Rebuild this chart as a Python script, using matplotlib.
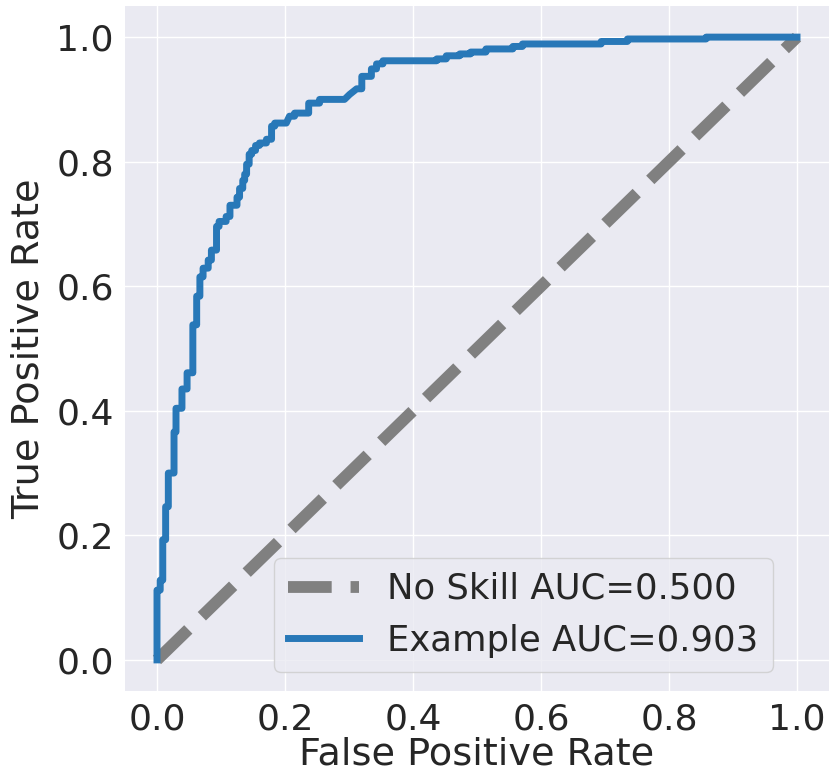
import matplotlib
matplotlib.use("Agg")
import matplotlib.pyplot as plt

# puntos de la curva ROC (esquinas de la escalera)
fpr = [0.0, 0.0, 0.005, 0.005, 0.009, 0.009, 0.0135, 0.0135, 0.0177, 0.0177,
       0.0266, 0.0266, 0.0297, 0.0297, 0.039, 0.039, 0.047, 0.047, 0.056, 0.056,
       0.062, 0.062, 0.067, 0.067, 0.072, 0.072, 0.080, 0.080, 0.085, 0.085,
       0.093, 0.093, 0.097, 0.097, 0.108, 0.108, 0.114, 0.114, 0.125, 0.125,
       0.129, 0.129, 0.134, 0.134, 0.137, 0.137, 0.140, 0.140, 0.144, 0.144,
       0.148, 0.148, 0.154, 0.154, 0.160, 0.160, 0.171, 0.171, 0.179, 0.179,
       0.184, 0.184, 0.202, 0.207, 0.215, 0.215, 0.237, 0.237, 0.254, 0.254,
       0.293, 0.301, 0.312, 0.320, 0.320, 0.335, 0.335, 0.343, 0.343, 0.353,
       0.353, 0.437, 0.437, 0.452, 0.452, 0.473, 0.473, 0.490, 0.490, 0.514,
       0.514, 0.556, 0.556, 0.571, 0.571, 0.694, 0.694, 0.735, 0.735, 0.858,
       0.858, 1.0]
tpr = [0.0, 0.112, 0.112, 0.128, 0.128, 0.193, 0.193, 0.246, 0.246, 0.300,
       0.300, 0.366, 0.366, 0.404, 0.404, 0.435, 0.435, 0.461, 0.461, 0.538,
       0.538, 0.584, 0.584, 0.615, 0.615, 0.629, 0.629, 0.642, 0.642, 0.658,
       0.658, 0.696, 0.696, 0.704, 0.704, 0.712, 0.712, 0.730, 0.730, 0.743,
       0.743, 0.757, 0.757, 0.770, 0.770, 0.780, 0.780, 0.796, 0.796, 0.812,
       0.812, 0.818, 0.818, 0.826, 0.826, 0.830, 0.830, 0.836, 0.836, 0.857,
       0.857, 0.862, 0.862, 0.873, 0.873, 0.878, 0.878, 0.894, 0.894, 0.900,
       0.900, 0.908, 0.917, 0.917, 0.937, 0.937, 0.949, 0.949, 0.957, 0.957,
       0.962, 0.962, 0.965, 0.965, 0.970, 0.970, 0.973, 0.973, 0.976, 0.976,
       0.981, 0.981, 0.985, 0.985, 0.989, 0.989, 0.993, 0.993, 0.997, 0.997,
       1.0, 1.0]

no_skill_x = [0.0, 1.0]
no_skill_y = [0.0, 1.0]

ticks = [0.0, 0.2, 0.4, 0.6, 0.8, 1.0]
tick_labels = ["0.0", "0.2", "0.4", "0.6", "0.8", "1.0"]

plt.rcParams.update({
    "axes.facecolor": "#EAEAF2",
    "axes.edgecolor": "white",
    "grid.color": "white",
    "text.color": "#262626",
    "axes.labelcolor": "#262626",
    "xtick.color": "#262626",
    "ytick.color": "#262626",
})

fig = plt.figure(figsize=(8.3, 7.76), dpi=100)
ax = fig.add_axes([0.1506, 0.1095, 0.8482, 0.8828])

ax.plot(no_skill_x, no_skill_y, linestyle="--", color="gray", linewidth=8.5,
        label="No Skill AUC=0.500")
ax.plot(fpr, tpr, color="#2878b8", linewidth=5, label="Example AUC=0.903")

ax.set_xticks(ticks)
ax.set_xticklabels(tick_labels)
ax.set_yticks(ticks)
ax.set_yticklabels(tick_labels)
ax.tick_params(labelsize=26, length=0, pad=8)
ax.grid(True, linewidth=1.0)
ax.set_axisbelow(True)
for s in ax.spines.values():
    s.set_visible(False)

ax.set_xlabel("False Positive Rate", fontsize=27.5, labelpad=0)
ax.set_ylabel("True Positive Rate", fontsize=27.5, labelpad=7)

leg = ax.legend(loc="lower right", bbox_to_anchor=(0.920, 0.028), borderaxespad=0,
                fontsize=25.5, facecolor="#EAEAF2", edgecolor="0.8", framealpha=0.8)

fig.savefig("out.png", dpi=100)
